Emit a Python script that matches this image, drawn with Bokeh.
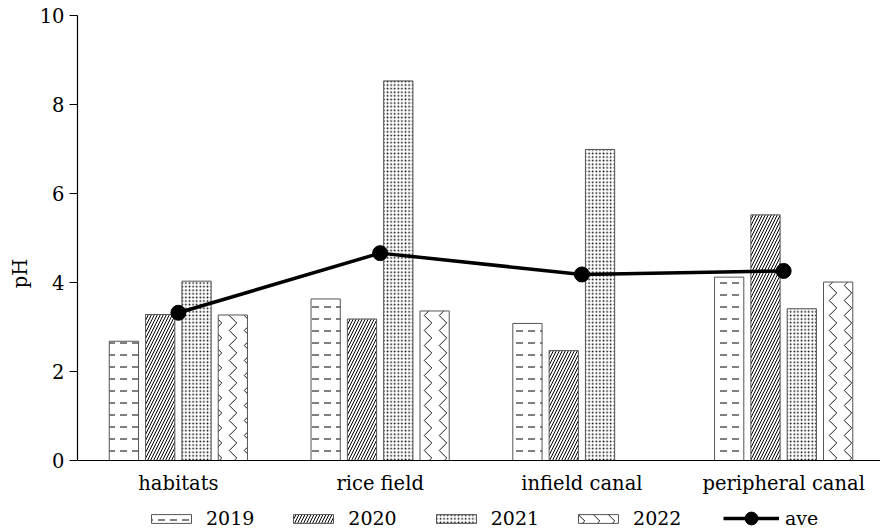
import numpy as np
from bokeh.plotting import figure
from bokeh.core.properties import value
from bokeh.models import (ColumnDataSource, FixedTicker, Legend, LegendItem, Range1d, Span)
from bokeh.embed import file_html
from bokeh.resources import INLINE

# pH by habitat and year
categories = ["habitats", "rice field", "infield canal", "peripheral canal"]
years = ["2019", "2020", "2021", "2022"]
ph_2019 = [2.68, 3.63, 3.08, 4.12]
ph_2020 = [3.28, 3.18, 2.47, 5.52]
ph_2021 = [4.03, 8.53, 6.99, 3.41]
ph_2022 = [3.27, 3.36, np.nan, 4.01]   # no 2022 sample for the infield canal
ph_ave = [3.32, 4.66, 4.18, 4.26]

series = [ph_2019, ph_2020, ph_2021, ph_2022]

FONT = "DejaVu Serif"
offsets = [-0.27, -0.09, 0.09, 0.27]
bar_w = 0.145

# one fill pattern per year
hatch_styles = [
    dict(hatch_pattern="horizontal_dash", hatch_scale=12, hatch_weight=1.0),
    dict(hatch_pattern="right_diagonal_line", hatch_scale=6, hatch_weight=1.0),
    dict(hatch_pattern="dot", hatch_scale=3.6),
    dict(hatch_pattern="vertical_wave", hatch_scale=15, hatch_weight=0.9),
]

# plot frame runs to the bottom of the canvas; the x baseline sits at pH 0
TOP, BOTTOM_SPACE, PLOT_H = 15, 71, 445
y_low = -10 * BOTTOM_SPACE / PLOT_H

p = figure(width=880, height=531, output_backend="svg", toolbar_location=None,
           x_range=Range1d(-0.5, 3.48), y_range=Range1d(y_low, 10),
           x_axis_location=None,
           min_border_left=77, min_border_right=0, min_border_top=TOP,
           min_border_bottom=0)
p.outline_line_color = None
p.grid.visible = False

bar_items = []
for yr, vals, off, st in zip(years, series, offsets, hatch_styles):
    xs = [i + off for i, v in enumerate(vals) if not np.isnan(v)]
    tops = [v for v in vals if not np.isnan(v)]
    src = ColumnDataSource(dict(x=xs, top=tops))
    r = p.vbar(x="x", top="top", bottom=0, width=bar_w, source=src,
               fill_color="white", line_color="#555555", line_width=1,
               hatch_color="black", **st)
    bar_items.append(LegendItem(label=yr, renderers=[r]))

ave_src = ColumnDataSource(dict(x=list(range(len(categories))), y=ph_ave))
l = p.line("x", "y", source=ave_src, line_color="black", line_width=3.5)
c = p.scatter("x", "y", source=ave_src, size=15, fill_color="black", line_color="black")

# x baseline and category labels
p.add_layout(Span(location=0, dimension="width", line_color="black", line_width=1.2))
lab_src = ColumnDataSource(dict(x=list(range(len(categories))), y=[0] * len(categories),
                                text=categories))
p.text("x", "y", text="text", source=lab_src, text_align="center",
       text_baseline="top", y_offset=11, text_font=value(FONT),
       text_font_size="19.5px", text_color="black")

# y axis
p.yaxis.bounds = (0, 10)
p.yaxis.ticker = FixedTicker(ticks=[0, 2, 4, 6, 8, 10])
p.yaxis.major_tick_out = 8
p.yaxis.major_tick_in = 0
p.yaxis.minor_tick_line_color = None
p.yaxis.major_label_standoff = 5
p.yaxis.axis_line_color = "black"
p.yaxis.axis_line_width = 1.2
p.yaxis.axis_label = "pH"
p.yaxis.axis_label_standoff = 5
p.yaxis.major_label_text_font = FONT
p.yaxis.major_label_text_font_size = "19.5px"
p.yaxis.major_label_text_color = "black"
p.yaxis.axis_label_text_font = FONT
p.yaxis.axis_label_text_font_size = "19.5px"
p.yaxis.axis_label_text_font_style = "normal"
p.yaxis.axis_label_text_color = "black"

common = dict(orientation="horizontal", padding=0, margin=0, border_line_color=None,
              background_fill_alpha=0, label_text_font=FONT,
              label_text_font_size="19px", label_text_color="black")
bar_legend = Legend(items=bar_items, location=(69, 2), glyph_width=50, glyph_height=11,
                    label_standoff=10, spacing=34, **common)
ave_legend = Legend(items=[LegendItem(label="ave", renderers=[l, c])], location=(646, -3),
                    glyph_width=56, glyph_height=32, label_standoff=6, **common)
p.add_layout(bar_legend, "center")
p.add_layout(ave_legend, "center")

open("out.html", "w").write(file_html(p, INLINE))
